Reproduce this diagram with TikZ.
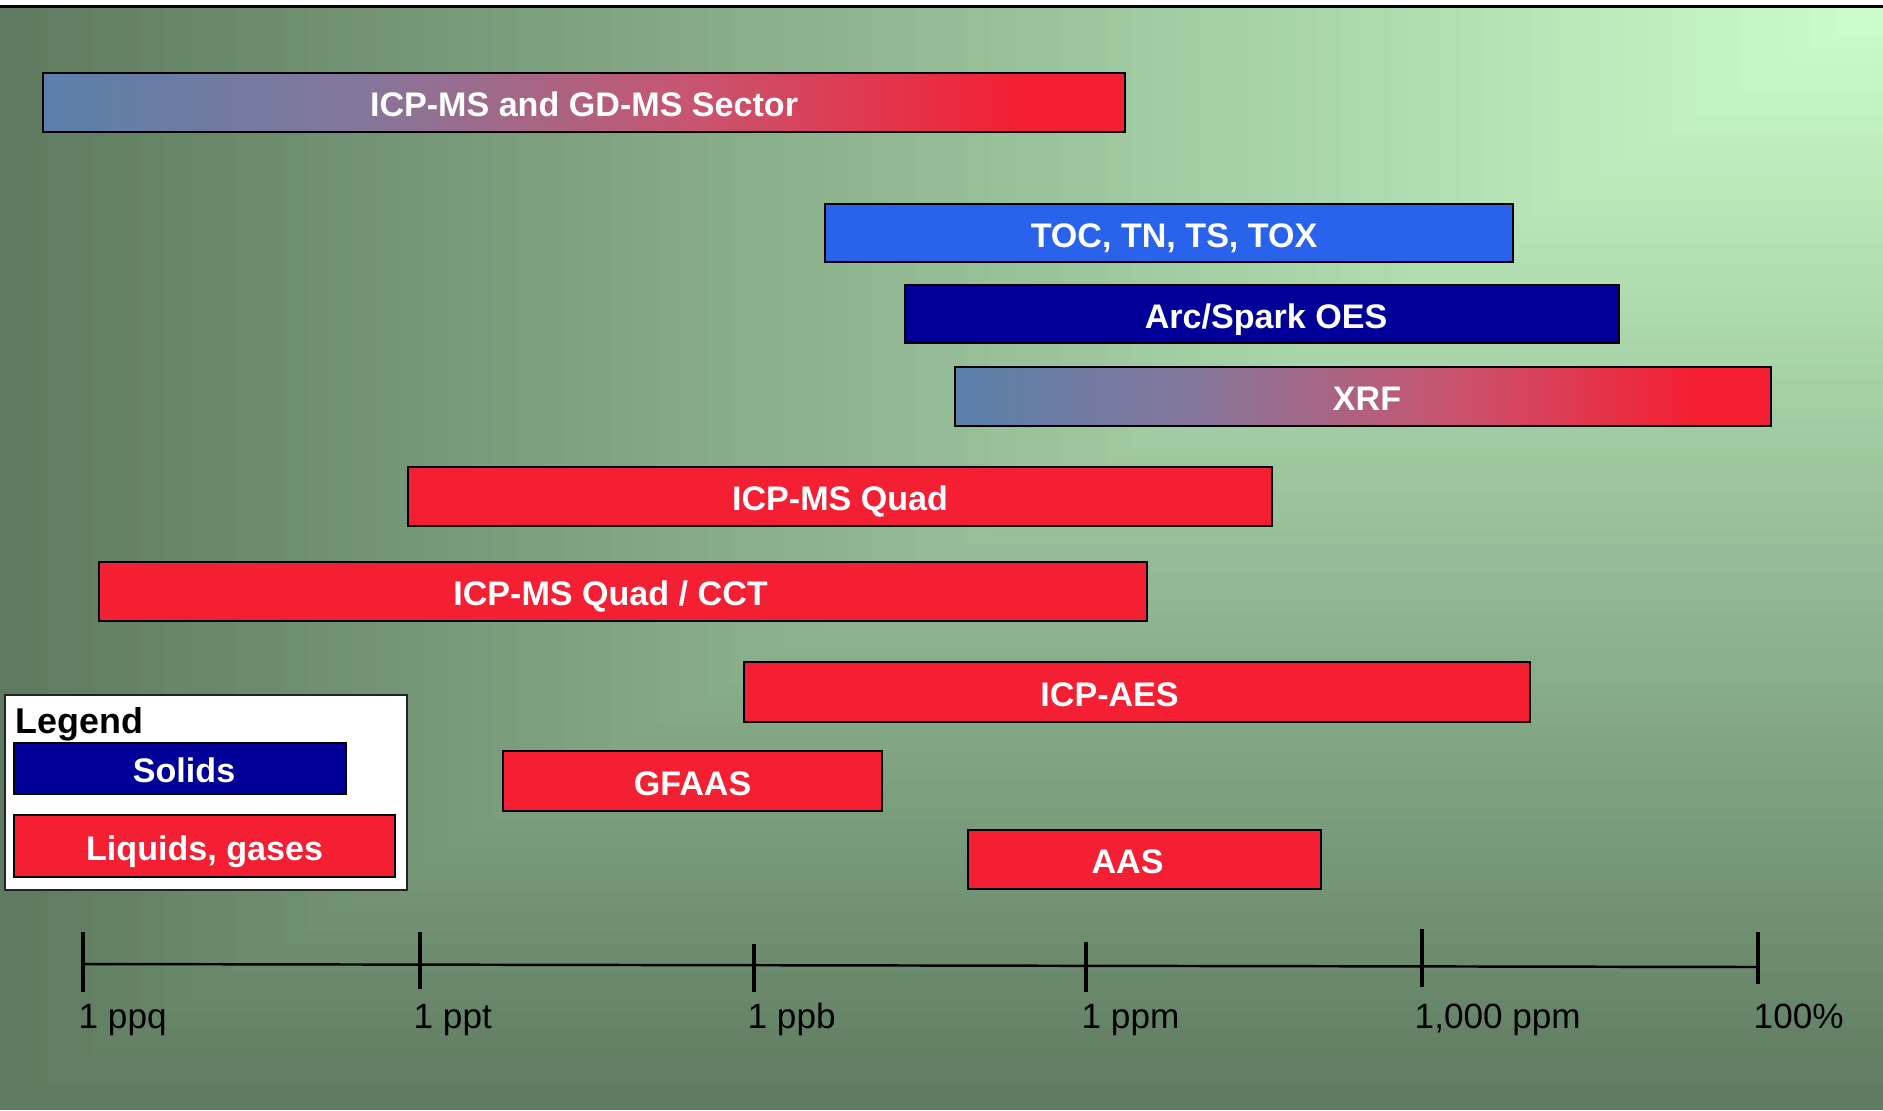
\documentclass[tikz,border=0pt]{standalone}
\usepackage{fontspec}
\setmainfont{Liberation Sans}
\usetikzlibrary{positioning,calc}

\definecolor{bgdark}{RGB}{94,122,96}
\definecolor{bglight}{RGB}{204,255,204}
\definecolor{liq}{RGB}{244,31,51}
\definecolor{sol}{RGB}{0,0,153}
\definecolor{tocblue}{RGB}{41,98,235}
\definecolor{gleft}{RGB}{90,128,170}
\definecolor{gmidA}{RGB}{133,118,154}
\definecolor{gmidB}{RGB}{200,85,112}
\definecolor{legline}{RGB}{34,34,34}
\pgfdeclarehorizontalshading{mixgrad}{100bp}{color(0bp)=(gleft); color(25bp)=(gleft); color(40bp)=(gmidA); color(55bp)=(gmidB); color(70bp)=(liq); color(100bp)=(liq)}

\begin{document}
\begin{tikzpicture}[font=\fontsize{10}{12}\selectfont]
    \tikzset{
      bar/.style={draw=black, line width=0.6pt, anchor=west, inner sep=0pt, minimum height=0.59cm,
                  text height=0.285cm, text depth=0pt,
                  text=white, font=\fontsize{9.7}{11}\selectfont\bfseries},
      mix/.style={bar, shade, shading=mixgrad},
      axlab/.style={anchor=base west, inner sep=0pt, font=\fontsize{10}{12}\selectfont},
      tickline/.style={line width=1.2pt},
    }
    \useasboundingbox (0,0) rectangle (18.83,11.10);
    \fill[white] (0,0) rectangle (18.83,11.10);

    % background, light in the upper right corner
    \foreach \i in {0,...,80}{
      \pgfmathsetmacro{\s}{1-\i/80}
      \pgfmathsetmacro{\p}{100*\i/80}
      \fill[bglight!\p!bgdark] ({18.83*(1-\s)},{11.02*(1-\s)}) rectangle (18.83,11.02);
    }
    \draw[line width=0.85pt] (0,11.035) -- (18.83,11.035);

    % techniques
    \node[mix, minimum width=10.82cm] (sector) at (0.42,10.075) {ICP-MS and GD-MS Sector};
    \node[bar, fill=tocblue, minimum width=6.88cm, minimum height=0.58cm] (toc) at (8.24,8.77) {\hspace*{0.1cm}TOC, TN, TS, TOX};
    \node[bar, fill=sol, minimum width=7.14cm, minimum height=0.58cm] (arc) at (9.04,7.96) {\hspace*{0.08cm}Arc/Spark OES};
    \node[mix, minimum width=8.16cm] (xrf) at (9.54,7.135) {\hspace*{0.08cm}XRF};
    \node[bar, fill=liq, minimum width=8.64cm] (quad) at (4.07,6.135) {ICP-MS Quad};
    \node[bar, fill=liq, minimum width=10.48cm] (cct) at (0.98,5.185) {ICP-MS Quad / CCT\hspace*{0.25cm}};
    \node[bar, fill=liq, minimum width=7.86cm, minimum height=0.60cm] (aes) at (7.43,4.18) {ICP-AES\hspace*{0.55cm}};
    \node[bar, fill=liq, minimum width=3.79cm, minimum height=0.60cm] (gfaas) at (5.02,3.29) {GFAAS};
    \node[bar, fill=liq, minimum width=3.53cm] (aas) at (9.67,2.505) {AAS\hspace*{0.34cm}};

    % legend
    \node[draw=legline, line width=0.5pt, fill=white, anchor=north west, inner sep=0pt,
          minimum width=4.02cm, minimum height=1.95cm] (legend) at (0.04,4.16) {};
    \node[anchor=base west, inner sep=0pt, font=\fontsize{10.2}{12}\selectfont\bfseries] (legtitle) at (0.15,3.77) {Legend};
    \node[bar, fill=sol, minimum width=3.32cm, minimum height=0.51cm] (solids) at (0.13,3.415) {\hspace*{0.08cm}Solids};
    \node[bar, fill=liq, minimum width=3.81cm, minimum height=0.62cm] (liquids) at (0.13,2.64) {Liquids, gases};

    % concentration axis
    \coordinate (t0) at (0.83,1.460);
    \coordinate (t5) at (17.58,1.430);
    \draw[line width=0.7pt] (t0) -- (t5);
    \draw[tickline] (0.83,1.78) -- (0.83,1.18);
    \draw[tickline] (4.20,1.78) -- (4.20,1.21);
    \draw[tickline] (7.54,1.66) -- (7.54,1.18);
    \draw[tickline] (10.86,1.68) -- (10.86,1.18);
    \draw[tickline] (14.22,1.81) -- (14.22,1.23);
    \draw[tickline] (17.58,1.78) -- (17.58,1.26);

    \node[axlab] (ppq) at (0.78,0.82) {1 ppq};
    \node[axlab] (ppt) at (4.13,0.82) {1 ppt};
    \node[axlab] (ppb) at (7.47,0.82) {1 ppb};
    \node[axlab] (ppm) at (10.81,0.82) {1 ppm};
    \node[axlab] (kppm) at (14.14,0.82) {1,000 ppm};
    \node[axlab] (pct) at (17.53,0.82) {100\%};
  \end{tikzpicture}
\end{document}
